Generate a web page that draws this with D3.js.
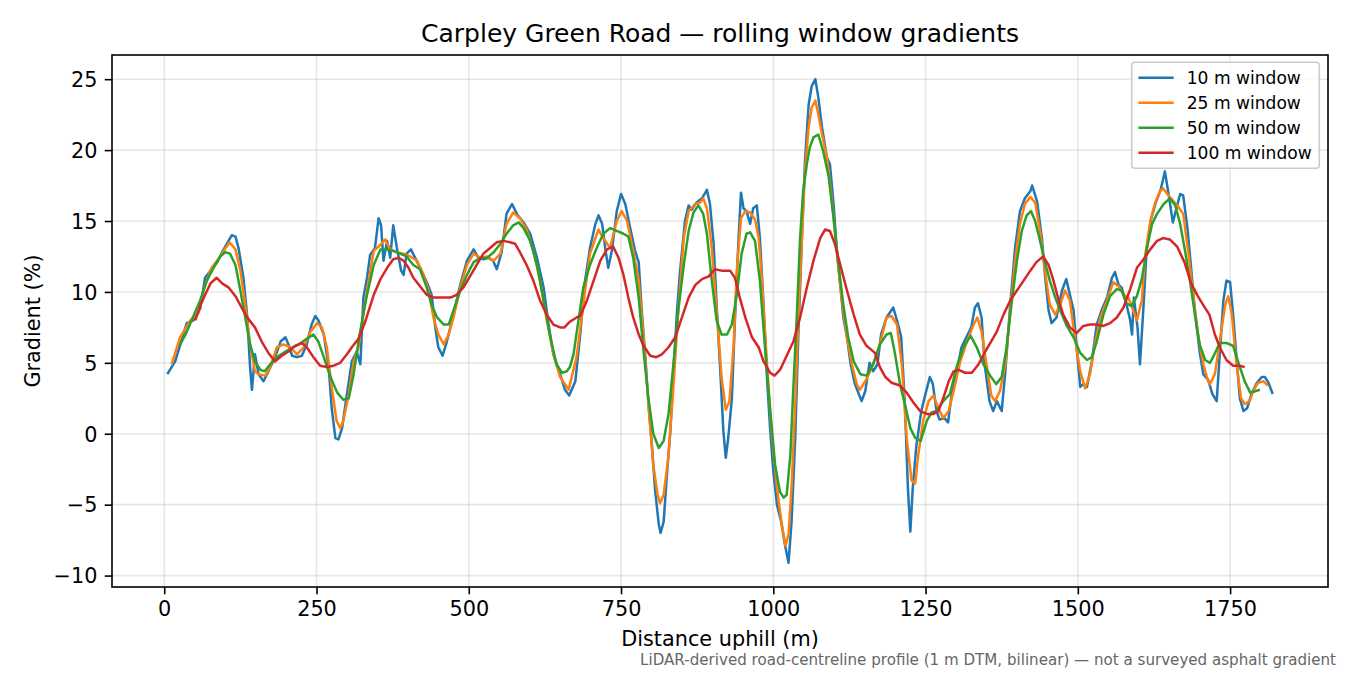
<!DOCTYPE html>
<html>
<head>
<meta charset="utf-8">
<script src="https://cdn.jsdelivr.net/npm/d3@7"></script>
<style>
  body { margin: 0; background: #fff; }
  text { font-family: "DejaVu Sans", sans-serif; }
</style>
</head>
<body>
<div id="chart"></div>
<script>
// series: [distance uphill (m), gradient (%)]
var w10 = [[5,4.2],[18,5.1],[37,7.8],[48,8.0],[59,8.8],[67,11.0],[76,11.5],[87,12.1],[95,12.8],[111,14.0],[117,13.9],[122,13.1],[130,11.0],[136,8.4],[141,4.7],[144,3.1],[149,5.6],[155,4.2],[163,3.7],[171,4.4],[182,5.4],[191,6.5],[199,6.8],[204,6.3],[210,5.5],[218,5.4],[226,5.5],[234,6.3],[242,7.7],[248,8.3],[253,8.0],[262,7.0],[270,4.7],[275,1.8],[281,-0.3],[286,-0.4],[292,0.4],[300,2.8],[308,5.1],[316,5.8],[322,4.9],[327,9.6],[333,11.0],[338,12.6],[346,13.1],[352,15.2],[356,14.7],[360,12.2],[366,13.6],[371,12.4],[376,14.7],[382,13.1],[389,11.5],[393,11.2],[398,12.7],[405,13.0],[412,12.4],[420,11.7],[431,10.7],[439,9.8],[445,7.5],[450,6.1],[457,5.5],[464,6.5],[475,8.4],[486,10.5],[497,12.2],[508,13.0],[516,12.4],[524,12.3],[532,12.4],[540,12.2],[546,11.6],[554,12.8],[562,15.5],[571,16.2],[579,15.5],[590,14.9],[601,14.1],[612,12.4],[623,10.3],[631,7.7],[639,5.6],[650,4.2],[658,3.1],[665,2.7],[675,3.7],[683,7.0],[691,10.8],[699,13.1],[708,14.8],[713,15.4],[719,14.8],[724,13.1],[729,11.7],[735,12.9],[743,15.7],[750,16.9],[757,16.2],[765,14.5],[773,12.9],[779,12.1],[784,8.7],[790,5.4],[795,2.1],[801,-1.0],[806,-4.0],[812,-6.4],[815,-7.0],[820,-6.2],[825,-3.1],[831,0.2],[836,4.4],[842,8.7],[847,11.5],[855,15.0],[861,16.1],[866,15.8],[874,16.3],[883,16.6],[891,17.2],[896,16.2],[902,13.4],[907,9.1],[913,4.4],[918,0.2],[922,-1.7],[926,-0.3],[932,2.5],[937,8.0],[943,13.8],[947,17.0],[951,15.9],[956,15.7],[962,14.8],[967,15.9],[973,16.1],[978,13.8],[984,9.1],[989,4.4],[995,0.2],[1000,-2.6],[1006,-5.0],[1013,-6.2],[1019,-7.8],[1025,-9.1],[1030,-6.2],[1036,-0.3],[1041,6.8],[1047,13.8],[1052,19.2],[1058,23.2],[1063,24.5],[1069,25.0],[1074,23.7],[1080,21.6],[1088,19.5],[1093,19.0],[1099,16.2],[1104,13.1],[1110,10.5],[1115,8.2],[1121,6.8],[1127,4.9],[1134,3.5],[1145,2.3],[1151,3.0],[1158,5.0],[1164,4.4],[1171,4.9],[1177,7.0],[1186,8.2],[1197,8.9],[1205,7.7],[1210,6.8],[1216,2.1],[1221,-3.8],[1225,-6.9],[1229,-3.8],[1235,-0.8],[1243,1.6],[1251,3.0],[1257,4.0],[1262,3.5],[1268,1.6],[1273,1.0],[1281,1.1],[1287,0.8],[1292,2.5],[1301,4.4],[1309,6.1],[1317,6.8],[1325,7.5],[1331,8.9],[1336,9.2],[1342,8.2],[1347,4.9],[1355,2.3],[1361,1.6],[1367,2.3],[1375,1.6],[1381,4.4],[1389,9.1],[1397,13.1],[1405,15.7],[1413,16.6],[1422,17.1],[1425,17.5],[1433,16.4],[1441,13.8],[1446,11.2],[1452,8.7],[1457,7.8],[1465,8.2],[1474,10.1],[1481,10.9],[1487,9.8],[1493,8.7],[1498,6.1],[1504,3.3],[1509,3.5],[1515,3.3],[1523,5.1],[1531,7.7],[1539,8.7],[1548,9.6],[1556,11.0],[1561,11.4],[1567,10.5],[1572,10.3],[1580,9.1],[1586,8.0],[1589,7.0],[1592,9.6],[1598,7.5],[1602,4.9],[1608,9.1],[1613,13.0],[1620,15.1],[1628,16.3],[1636,17.2],[1643,18.5],[1649,16.9],[1656,14.9],[1662,15.9],[1668,16.9],[1673,16.8],[1680,14.5],[1687,11.2],[1692,8.7],[1700,5.8],[1706,4.2],[1714,3.8],[1721,2.8],[1728,2.3],[1733,5.6],[1739,9.4],[1744,10.8],[1750,10.7],[1755,8.4],[1761,5.1],[1766,2.5],[1772,1.6],[1778,1.8],[1785,2.8],[1794,3.6],[1802,4.0],[1807,4.0],[1813,3.6],[1820,2.8]];

var w25 = [[12,4.9],[26,6.8],[43,8.0],[56,8.5],[67,10.5],[78,11.7],[92,12.5],[107,13.5],[117,13.0],[125,11.5],[133,9.1],[141,6.3],[149,4.4],[155,4.2],[166,4.1],[174,4.7],[185,6.1],[196,6.3],[207,6.1],[218,5.6],[229,6.1],[240,7.2],[251,7.8],[259,7.5],[267,6.1],[275,3.3],[283,0.9],[289,0.4],[294,0.9],[303,2.8],[311,5.1],[319,6.1],[326,8.2],[333,10.1],[344,12.9],[352,13.2],[363,13.7],[371,13.0],[382,12.8],[393,12.7],[404,12.5],[415,12.2],[426,11.2],[434,10.1],[442,8.2],[450,7.0],[459,6.3],[467,7.0],[475,8.2],[486,10.3],[497,11.9],[508,12.7],[519,12.4],[530,12.5],[541,12.2],[552,12.7],[562,14.8],[573,15.6],[584,15.2],[595,14.4],[606,12.9],[617,10.8],[628,8.0],[639,5.6],[650,4.0],[664,3.1],[677,5.4],[688,9.1],[699,12.7],[713,14.4],[721,13.8],[732,13.1],[743,15.0],[751,15.7],[760,15.0],[770,12.9],[779,10.8],[787,6.8],[795,2.1],[803,-2.2],[810,-4.3],[814,-4.9],[820,-4.3],[828,-1.5],[836,3.3],[844,8.7],[853,13.8],[861,15.7],[872,16.2],[880,16.3],[885,16.6],[891,15.9],[899,13.1],[907,8.7],[915,4.0],[922,1.7],[928,2.3],[935,6.3],[940,11.5],[947,15.2],[954,15.7],[962,15.6],[970,15.1],[976,13.8],[981,11.0],[989,5.4],[997,0.2],[1006,-3.8],[1014,-6.4],[1020,-7.9],[1025,-7.1],[1030,-3.8],[1036,2.1],[1041,8.0],[1047,13.8],[1052,18.5],[1058,21.6],[1063,23.0],[1069,23.5],[1074,22.5],[1080,21.1],[1088,19.5],[1096,16.6],[1104,12.9],[1112,9.6],[1121,6.8],[1129,4.9],[1137,3.5],[1142,3.1],[1151,3.7],[1159,4.4],[1170,5.6],[1178,6.8],[1186,8.2],[1194,8.3],[1203,7.7],[1211,4.9],[1219,-0.3],[1227,-3.3],[1233,-3.5],[1238,-1.5],[1246,0.9],[1255,2.3],[1263,2.7],[1271,1.8],[1279,1.1],[1288,1.6],[1296,3.0],[1307,5.1],[1318,6.5],[1329,7.7],[1335,8.2],[1342,7.2],[1350,4.9],[1358,2.7],[1364,2.3],[1372,3.0],[1381,4.9],[1389,8.7],[1397,12.2],[1405,14.8],[1413,16.2],[1422,16.7],[1430,16.3],[1438,14.3],[1446,11.5],[1454,9.1],[1463,8.4],[1471,9.1],[1479,10.1],[1487,9.4],[1495,6.8],[1504,4.4],[1512,3.2],[1520,4.2],[1528,6.3],[1537,8.2],[1548,9.4],[1558,10.7],[1567,10.4],[1575,9.8],[1583,9.6],[1591,8.7],[1597,8.0],[1605,9.4],[1611,12.7],[1619,15.0],[1627,16.3],[1635,17.1],[1640,17.3],[1649,16.8],[1657,16.4],[1665,16.0],[1673,15.5],[1682,12.6],[1690,9.6],[1698,6.8],[1706,4.9],[1714,3.7],[1717,3.5],[1725,4.2],[1733,6.5],[1742,9.1],[1747,9.7],[1753,8.4],[1760,5.1],[1768,2.5],[1774,2.1],[1782,2.3],[1789,3.1],[1796,3.6],[1805,3.7],[1812,3.4]];

var w50 = [[25,6.2],[35,7.0],[48,8.3],[59,9.4],[70,10.8],[81,11.7],[92,12.5],[100,12.8],[108,12.7],[117,11.9],[125,10.1],[133,8.2],[141,6.3],[149,5.1],[158,4.5],[165,4.4],[174,4.9],[185,5.4],[196,5.7],[207,6.0],[221,6.3],[234,6.7],[245,7.0],[253,6.5],[262,5.4],[273,4.0],[284,2.9],[294,2.4],[303,2.5],[311,4.2],[320,6.8],[332,9.6],[344,11.9],[355,13.0],[366,13.0],[376,12.9],[387,12.7],[398,12.5],[409,11.9],[420,11.6],[431,10.3],[439,9.1],[448,8.2],[459,7.7],[467,7.7],[475,8.7],[486,10.1],[497,11.2],[508,12.1],[519,12.4],[530,12.4],[541,12.8],[552,13.4],[562,14.1],[573,14.7],[582,14.9],[590,14.5],[601,13.6],[612,11.9],[623,9.4],[634,6.8],[644,4.9],[653,4.3],[661,4.4],[666,4.7],[672,5.6],[677,7.1],[688,10.3],[699,11.9],[710,13.1],[721,14.1],[732,14.5],[743,14.3],[754,14.1],[762,13.9],[770,12.4],[779,9.6],[787,5.8],[795,2.5],[803,0.0],[812,-1.0],[820,-0.5],[828,1.4],[836,4.9],[844,8.7],[853,11.9],[861,14.3],[869,15.6],[877,16.1],[885,15.5],[891,14.1],[899,10.8],[907,8.0],[915,7.0],[924,7.0],[932,7.7],[940,9.8],[948,12.7],[956,14.1],[962,14.2],[970,13.6],[978,10.8],[986,6.3],[995,1.6],[1003,-2.2],[1011,-4.1],[1017,-4.5],[1022,-4.3],[1028,-1.5],[1033,3.3],[1039,8.7],[1044,13.8],[1049,17.1],[1055,19.0],[1060,20.2],[1066,20.9],[1074,21.1],[1082,19.9],[1091,18.1],[1099,15.2],[1107,11.9],[1115,9.1],[1123,6.8],[1132,5.1],[1143,4.2],[1153,4.1],[1164,4.9],[1175,6.3],[1186,7.0],[1193,7.1],[1200,5.6],[1208,3.5],[1216,2.1],[1225,0.4],[1233,-0.3],[1242,-0.5],[1252,0.9],[1260,1.5],[1268,1.6],[1279,2.3],[1290,2.8],[1301,4.7],[1312,6.1],[1324,6.9],[1334,6.1],[1345,4.9],[1356,4.1],[1366,3.5],[1375,4.0],[1383,6.1],[1391,9.1],[1400,12.2],[1408,14.3],[1416,15.4],[1423,15.7],[1430,15.0],[1438,13.6],[1446,12.1],[1454,10.8],[1463,9.6],[1471,8.7],[1482,7.6],[1493,6.8],[1504,5.7],[1515,5.2],[1523,5.4],[1531,6.5],[1542,8.4],[1553,9.7],[1564,10.2],[1572,10.1],[1580,9.2],[1588,9.0],[1597,9.7],[1605,10.9],[1614,13.2],[1622,14.8],[1630,15.5],[1641,16.2],[1651,16.6],[1660,16.1],[1668,14.8],[1676,12.9],[1684,10.8],[1693,8.2],[1700,6.3],[1709,5.2],[1717,5.0],[1722,5.4],[1733,6.4],[1744,6.4],[1755,6.2],[1763,5.1],[1774,3.7],[1783,2.9],[1791,3.0],[1799,3.1]];

var w100 = [[51,8.0],[59,9.0],[66,9.7],[76,10.6],[86,11.0],[95,10.6],[106,10.3],[117,9.7],[127,8.9],[138,8.1],[149,7.5],[160,6.5],[171,5.7],[182,5.1],[193,5.5],[204,5.8],[215,6.2],[226,6.4],[234,6.1],[245,5.4],[256,4.8],[267,4.7],[278,4.8],[289,5.0],[300,5.6],[308,6.1],[319,6.7],[330,7.9],[344,9.8],[355,10.9],[366,11.7],[376,12.3],[385,12.4],[393,12.2],[401,11.7],[409,11.0],[420,10.4],[431,9.8],[442,9.6],[456,9.6],[470,9.6],[480,9.8],[491,10.3],[502,11.1],[513,11.9],[524,12.7],[535,13.1],[546,13.5],[557,13.6],[568,13.5],[576,13.4],[584,12.8],[595,11.9],[606,10.8],[617,9.4],[628,8.4],[639,7.7],[650,7.5],[657,7.5],[666,7.9],[677,8.2],[683,8.3],[694,9.4],[705,10.8],[716,12.2],[727,13.0],[737,13.2],[746,12.4],[754,11.2],[762,9.6],[770,8.2],[779,7.0],[787,6.2],[798,5.5],[808,5.4],[817,5.6],[828,6.1],[839,6.8],[850,8.2],[861,9.6],[872,10.5],[883,10.9],[894,11.1],[904,11.6],[915,11.5],[929,11.5],[937,11.0],[945,9.6],[954,8.2],[965,6.8],[976,6.1],[984,5.1],[995,4.3],[1002,4.1],[1011,4.5],[1022,5.5],[1033,6.5],[1044,8.2],[1055,10.3],[1066,12.2],[1077,13.8],[1085,14.4],[1093,14.3],[1101,13.4],[1110,11.9],[1121,10.1],[1132,8.4],[1142,7.0],[1153,6.2],[1167,5.7],[1175,4.7],[1184,4.0],[1194,3.6],[1208,3.4],[1219,2.9],[1230,2.2],[1241,1.6],[1252,1.4],[1263,1.4],[1271,1.6],[1279,2.5],[1288,3.7],[1296,4.4],[1304,4.5],[1315,4.3],[1326,4.3],[1337,4.9],[1348,5.8],[1359,6.6],[1367,7.2],[1378,8.4],[1389,9.4],[1400,10.1],[1411,10.8],[1422,11.5],[1432,12.1],[1443,12.5],[1452,11.9],[1460,10.8],[1468,9.5],[1476,8.4],[1487,7.5],[1498,7.1],[1509,7.6],[1520,7.7],[1531,7.7],[1542,7.6],[1553,7.8],[1564,8.2],[1575,8.9],[1586,10.2],[1597,11.7],[1608,12.3],[1619,13.0],[1630,13.6],[1640,13.8],[1651,13.7],[1663,13.2],[1675,12.1],[1686,10.6],[1697,9.7],[1707,9.0],[1716,8.4],[1725,7.0],[1733,6.1],[1744,5.2],[1755,4.8],[1766,4.8],[1774,4.7]];

var seriesLabels = ["10 m window", "25 m window", "50 m window", "100 m window"];
var seriesColors = ["#1f77b4", "#ff7f0e", "#2ca02c", "#d62728"];
var xTicks = [0, 250, 500, 750, 1000, 1250, 1500, 1750];
var yTicks = [-10, -5, 0, 5, 10, 15, 20, 25];

var allSeries = [w10, w25, w50, w100];

// canvas
var width = 1350;
var height = 675;
var margin = { top: 55, right: 22, bottom: 88, left: 112 };
var innerW = width - margin.left - margin.right;
var innerH = height - margin.top - margin.bottom;

var svg = d3
  .select("#chart")
  .append("svg")
  .attr("width", width)
  .attr("height", height);

svg.append("rect").attr("width", width).attr("height", height).attr("fill", "#fff");

var plot = svg
  .append("g")
  .attr("transform", "translate(" + margin.left + "," + margin.top + ")");

// domains with 5% padding like matplotlib
var allPts = d3.merge(allSeries);
var xExt = d3.extent(allPts, function(d) { return d[0]; });
var yExt = d3.extent(allPts, function(d) { return d[1]; });
var xPad = (xExt[1] - xExt[0]) * 0.05;
var yPad = (yExt[1] - yExt[0]) * 0.05;

var x = d3.scaleLinear()
  .domain([xExt[0] - xPad, xExt[1] + xPad])
  .range([0, innerW]);
var y = d3.scaleLinear()
  .domain([yExt[0] - yPad, yExt[1] + yPad])
  .range([innerH, 0]);

// grid
var grid = plot.append("g").attr("class", "grid");
grid.selectAll("line.gx")
  .data(xTicks)
  .enter()
  .append("line")
  .attr("x1", function(d) { return x(d); })
  .attr("x2", function(d) { return x(d); })
  .attr("y1", 0)
  .attr("y2", innerH)
  .attr("stroke", "#b0b0b0")
  .attr("stroke-opacity", 0.3)
  .attr("stroke-width", 1.6);
grid.selectAll("line.gy")
  .data(yTicks)
  .enter()
  .append("line")
  .attr("x1", 0)
  .attr("x2", innerW)
  .attr("y1", function(d) { return y(d); })
  .attr("y2", function(d) { return y(d); })
  .attr("stroke", "#b0b0b0")
  .attr("stroke-opacity", 0.3)
  .attr("stroke-width", 1.6);

// lines
var line = d3.line()
  .x(function(d) { return x(d[0]); })
  .y(function(d) { return y(d[1]); });

plot.selectAll("path.series")
  .data(allSeries)
  .enter()
  .append("path")
  .attr("class", "series")
  .attr("d", line)
  .attr("fill", "none")
  .attr("stroke", function(d, i) { return seriesColors[i]; })
  .attr("stroke-width", 2.5)
  .attr("stroke-linejoin", "round")
  .attr("stroke-linecap", "butt");

// axes
var xAxis = d3.axisBottom(x).tickValues(xTicks).tickSize(7.3).tickPadding(7.3).tickFormat(d3.format("d"));
var yAxis = d3.axisLeft(y).tickValues(yTicks).tickSize(7.3).tickPadding(7.3).tickFormat(d3.format("d"));

var gx = plot.append("g")
  .attr("transform", "translate(0," + innerH + ")")
  .call(xAxis);
var gy = plot.append("g").call(yAxis);

[gx, gy].forEach(function(g) {
  g.select(".domain").remove();
  g.selectAll(".tick line").attr("stroke", "#000").attr("stroke-width", 1.6);
  g.selectAll(".tick text")
    .attr("fill", "#000")
    .style("font-family", "'DejaVu Sans', sans-serif")
    .style("font-size", "20.8px");
});
gy.selectAll(".tick text").attr("dy", "0.35em");

// frame
plot.append("rect")
  .attr("width", innerW)
  .attr("height", innerH)
  .attr("fill", "none")
  .attr("stroke", "#000")
  .attr("stroke-width", 1.6);

// title and labels
svg.append("text")
  .attr("x", margin.left + innerW / 2)
  .attr("y", 42)
  .attr("text-anchor", "middle")
  .style("font-size", "25px")
  .text("Carpley Green Road \u2014 rolling window gradients");

svg.append("text")
  .attr("x", margin.left + innerW / 2)
  .attr("y", 646)
  .attr("text-anchor", "middle")
  .style("font-size", "20.8px")
  .text("Distance uphill (m)");

svg.append("text")
  .attr("transform", "translate(40," + (margin.top + innerH / 2) + ")rotate(-90)")
  .attr("text-anchor", "middle")
  .style("font-size", "20.8px")
  .text("Gradient (%)");

svg.append("text")
  .attr("x", 1336)
  .attr("y", 665)
  .attr("text-anchor", "end")
  .attr("fill", "#666")
  .style("font-size", "15.1px")
  .text("LiDAR-derived road-centreline profile (1 m DTM, bilinear) \u2014 not a surveyed asphalt gradient");

// legend
var legFont = 17.1;
var rowH = 25;
var legend = plot.append("g")
  .attr("transform", "translate(" + (innerW - 8.7) + ",7.3)");

var legBox = legend.append("rect")
  .attr("fill", "#fff")
  .attr("fill-opacity", 0.8)
  .attr("stroke", "#cccccc")
  .attr("stroke-width", 1.6)
  .attr("rx", 3);

var rows = legend.selectAll("g.row")
  .data(seriesLabels)
  .enter()
  .append("g")
  .attr("class", "row");

rows.append("line")
  .attr("stroke", function(d, i) { return seriesColors[i]; })
  .attr("stroke-width", 2.5);

var rowTexts = rows.append("text")
  .style("font-size", legFont + "px")
  .attr("fill", "#000")
  .text(function(d) { return d; });

var maxText = d3.max(rowTexts.nodes(), function(n) { return n.getComputedTextLength(); });
var legW = 55 + maxText + 7.6;
var legH = 106;

legBox.attr("x", -legW).attr("y", 0).attr("width", legW).attr("height", legH);

rows.attr("transform", function(d, i) {
  return "translate(" + (-legW) + "," + (15.4 + i * rowH) + ")";
});
rows.select("line").attr("x1", 6.7).attr("x2", 42).attr("y1", 0).attr("y2", 0);
rows.select("text").attr("x", 55).attr("dy", "0.35em");
</script>
</body>
</html>
